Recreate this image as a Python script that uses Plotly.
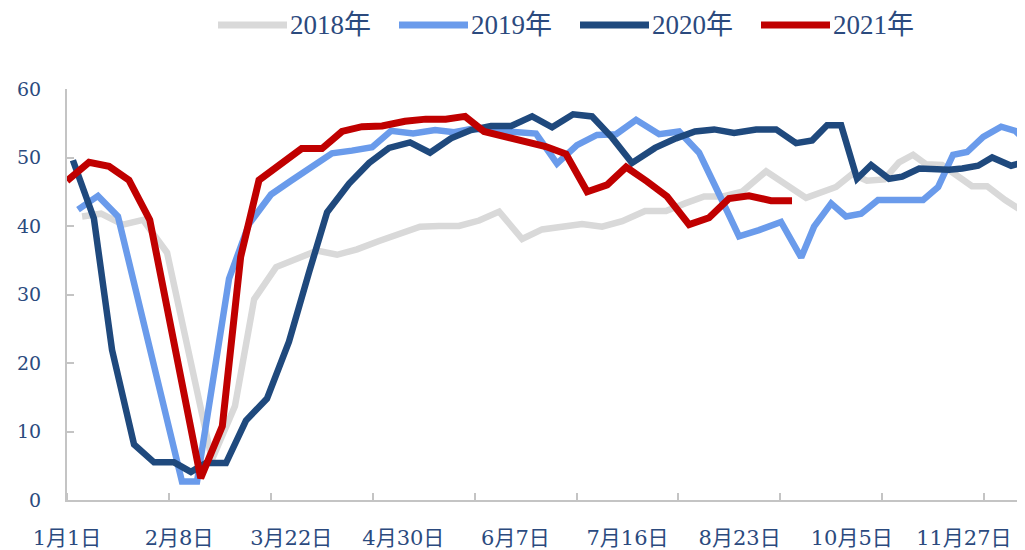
import plotly.graph_objects as go

# ---- data (x = week index from Jan 1, value) ----
series_names = ["2018年", "2019年", "2020年", "2021年"]
series_colors = ["#D9D9D9", "#6A9BEB", "#1F497D", "#C00000"]

x_2018 = [0.74, 1.67, 2.75, 3.73, 4.91, 7.11, 8.24, 9.18, 10.26, 11.24, 12.27, 13.25, 14.23, 15.31,
          16.29, 17.32, 18.25, 19.23, 20.22, 21.20, 22.33, 23.31, 24.29, 25.27, 26.25, 27.24, 28.36,
          29.39, 30.32, 31.26, 32.14, 33.12, 34.30, 35.28, 36.26, 37.73, 38.52, 39.25, 40.09, 40.82,
          41.51, 42.15, 42.93, 44.40, 45.14, 46.03, 46.91]
v_2018 = [41.4, 41.8, 40.2, 40.9, 36.1, 5.9, 13.7, 29.3, 34.0, 35.2, 36.4, 35.8, 36.6, 37.8, 38.9,
          39.9, 40.0, 40.0, 40.8, 42.1, 38.1, 39.5, 39.9, 40.3, 39.9, 40.7, 42.2, 42.2, 43.3, 44.3,
          44.3, 45.0, 48.0, 46.0, 44.1, 45.7, 47.6, 46.6, 46.8, 49.3, 50.4, 49.0, 48.9, 45.8, 45.8,
          43.8, 42.1]

x_2019 = [0.54, 1.52, 2.50, 5.64, 6.38, 7.95, 8.93, 10.01, 10.99, 11.97, 13.00, 13.98, 14.97, 15.90,
          16.98, 18.06, 18.99, 19.87, 20.90, 21.93, 23.01, 24.04, 25.02, 26.00, 26.94, 27.92, 29.05,
          30.03, 31.01, 32.00, 32.97, 33.95, 35.03, 36.02, 36.65, 37.49, 38.22, 38.96, 39.79, 40.92,
          42.00, 42.74, 43.47, 44.16, 44.95, 45.83, 46.52, 47.20]
v_2019 = [42.4, 44.4, 41.4, 2.7, 2.7, 32.3, 40.3, 44.6, 46.6, 48.6, 50.6, 51.0, 51.5, 53.9, 53.5,
          54.0, 53.7, 54.2, 53.9, 53.7, 53.5, 49.1, 51.8, 53.3, 53.4, 55.5, 53.4, 53.8, 50.7, 44.6,
          38.5, 39.4, 40.6, 35.4, 39.9, 43.3, 41.4, 41.8, 43.8, 43.8, 43.8, 45.7, 50.4, 50.8, 53.0,
          54.5, 53.9, 52.0]

x_2020 = [0.29, 1.32, 2.21, 3.29, 4.27, 5.25, 6.08, 6.82, 7.80, 8.78, 9.81, 10.89, 11.87, 12.76,
          13.84, 14.82, 15.80, 16.83, 17.81, 18.84, 19.82, 20.80, 21.79, 22.82, 23.80, 24.83, 25.76,
          26.74, 27.72, 28.85, 29.88, 30.81, 31.75, 32.73, 33.81, 34.79, 35.77, 36.56, 37.29, 37.98,
          38.76, 39.45, 40.33, 40.97, 41.81, 42.59, 43.28, 43.92, 44.70, 45.39, 46.32, 46.96]
v_2020 = [49.6, 41.1, 21.9, 8.1, 5.5, 5.5, 4.1, 5.4, 5.4, 11.6, 14.8, 23.1, 33.2, 42.0, 46.2, 49.2,
          51.4, 52.2, 50.7, 52.8, 54.0, 54.6, 54.6, 56.0, 54.4, 56.3, 56.0, 52.9, 49.2, 51.4, 52.8,
          53.8, 54.1, 53.6, 54.1, 54.1, 52.1, 52.5, 54.7, 54.7, 46.9, 48.9, 46.9, 47.2, 48.4, 48.2,
          48.2, 48.4, 48.8, 50.0, 48.8, 49.3]

x_2021 = [0.0, 1.08, 2.06, 3.04, 4.06, 6.56, 7.62, 8.52, 9.42, 10.40, 11.51, 12.51, 13.49, 14.47,
          15.46, 16.58, 17.60, 18.58, 19.53, 20.46, 21.53, 22.51, 23.49, 24.48, 25.52, 26.50, 27.43,
          28.46, 29.44, 30.52, 31.50, 32.48, 33.46, 34.54, 35.57]
v_2021 = [46.6, 49.3, 48.7, 46.7, 40.9, 3.2, 10.8, 35.5, 46.7, 48.9, 51.3, 51.3, 53.8, 54.5, 54.6,
          55.3, 55.6, 55.6, 56.0, 53.8, 53.0, 52.3, 51.6, 50.5, 45.0, 46.0, 48.6, 46.5, 44.3, 40.2,
          41.2, 44.0, 44.4, 43.7, 43.7]

tick_marks = [0, 5, 10, 15, 20, 25, 30, 35, 40, 45]
label_pos = [0, 5.5, 11, 16.5, 22, 27.5, 33, 38.5, 44]
label_text = ["1月1日", "2月8日", "3月22日", "4月30日", "6月7日", "7月16日", "8月23日", "10月5日", "11月27日"]
y_ticks = [0, 10, 20, 30, 40, 50, 60]

xs = [x_2018, x_2019, x_2020, x_2021]
vs = [v_2018, v_2019, v_2020, v_2021]
widths = [6.5, 6.5, 6.5, 7]

# page body adds an 8px offset, so the figure is sized/placed to compensate
OFF = 8
W, H = 1025 - OFF, 550 - OFF
ML, MR, MT, MB = 67 - OFF, 0, 89 - OFF, 50
TEXT = "#2B4A7E"
AXIS = "#C4C4C4"
NUM_FONT = "DejaVu Serif, Noto Sans CJK SC"

fig = go.Figure()
for name, color, x, v, w in zip(series_names, series_colors, xs, vs, widths):
    fig.add_trace(go.Scatter(x=x, y=v, mode="lines", name=name,
                             line=dict(color=color, width=w), showlegend=False,
                             hoverinfo="skip"))

# custom legend (long line samples); positions given in screen pixels
def px2paper_x(px):
    return (px - OFF - ML) / (W - ML - MR)

def py2paper_y(py):
    return (H - MB - (py - OFF)) / (H - MT - MB)

leg_start, leg_step, leg_len, leg_y = 218, 181, 69, 25
shapes, annos = [], []
for i, (name, color) in enumerate(zip(series_names, series_colors)):
    x0 = leg_start + i * leg_step
    shapes.append(dict(type="line", xref="paper", yref="paper",
                       x0=px2paper_x(x0), x1=px2paper_x(x0 + leg_len),
                       y0=py2paper_y(leg_y), y1=py2paper_y(leg_y),
                       line=dict(color=color, width=7)))
    annos.append(dict(xref="paper", yref="paper", x=px2paper_x(x0 + leg_len + 1),
                      y=py2paper_y(leg_y), text=name, showarrow=False,
                      xanchor="left", yanchor="middle",
                      font=dict(family="Liberation Serif, Noto Sans CJK SC", size=27, color=TEXT)))

fig.update_layout(
    width=W, height=H,
    margin=dict(l=ML, r=MR, t=MT, b=MB, pad=0),
    paper_bgcolor="white", plot_bgcolor="white",
    shapes=shapes, annotations=annos,
    xaxis=dict(range=[0, 47.0], showgrid=False, zeroline=False, automargin=False,
               showline=True, linecolor=AXIS, linewidth=2,
               tickmode="array", tickvals=label_pos, ticktext=label_text,
               ticks="", ticklabelstandoff=18,
               tickfont=dict(family=NUM_FONT, size=21, color=TEXT),
               minor=dict(tickmode="array", tickvals=tick_marks, ticks="inside",
                          ticklen=7, tickwidth=2, tickcolor=AXIS, showgrid=False)),
    yaxis=dict(range=[0, 60], showgrid=False, zeroline=False, automargin=False,
               showline=True, linecolor=AXIS, linewidth=2,
               tickmode="array", tickvals=y_ticks, ticks="inside",
               ticklen=7, tickwidth=2, tickcolor=AXIS, ticklabelstandoff=20,
               tickfont=dict(family=NUM_FONT, size=19, color=TEXT)),
)

fig.write_html("out.html")
